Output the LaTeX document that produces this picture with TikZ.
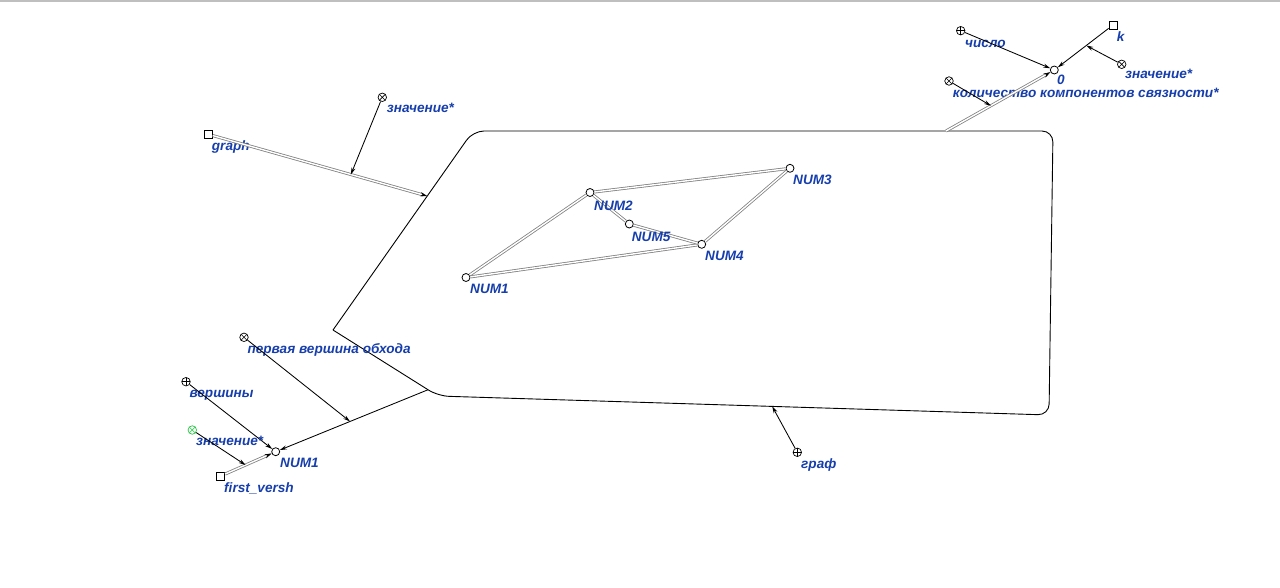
\documentclass[tikz,border=0pt]{standalone}
\usepackage{fontspec}
\setmainfont{Liberation Sans}
\usetikzlibrary{arrows.meta,calc}
\definecolor{lbl}{RGB}{22,62,172}
\definecolor{grn}{RGB}{40,200,70}
\begin{document}
\begin{tikzpicture}[x=1pt,y=-1pt,
  lab/.style={anchor=base west, inner sep=0pt, text=lbl, font=\fontsize{13.6}{15}\selectfont\bfseries\itshape},
  vtx/.style={circle, draw, fill=white, minimum size=8pt, inner sep=0pt, line width=0.8pt},
  mk/.style={circle, fill=white, minimum size=8.5pt, inner sep=0pt, line width=0.7pt},
  plusmk/.style={mk, draw=black, path picture={\draw[black, line width=0.6pt] (path picture bounding box.north) -- (path picture bounding box.south) (path picture bounding box.west) -- (path picture bounding box.east);}},
  xmk/.style={mk, draw=#1, path picture={\draw[#1, line width=0.6pt] (path picture bounding box.north west) -- (path picture bounding box.south east) (path picture bounding box.south west) -- (path picture bounding box.north east);}},
  xmk/.default=black,
  sq/.style={rectangle, draw, fill=white, minimum size=8pt, inner sep=0pt, line width=0.8pt},
  conn/.style={line width=0.85pt, -{Stealth[length=7pt,width=4pt]}},
  dbl/.style={draw=black!50, double=white, double distance=1.4pt, line width=0.8pt},
  dblarr/.style={dbl, -{Stealth[length=7pt,width=4.2pt,black,line width=0.3pt]}},
  shapeline/.style={line width=0.9pt},
]
\useasboundingbox (0,0) rectangle (1280,587);
\draw[black!25, line width=1.5pt] (0,1.2) -- (1280,1.2);

% big shape
\coordinate (lc) at (333,330);
\coordinate (tl) at (473,131);
\coordinate (tr) at (1053,131);
\coordinate (br) at (1049,415);
\coordinate (bl) at (438,396);
\draw[shapeline, rounded corners=11pt] (lc) -- (tl) -- (tr) -- (br) -- (bl) -- (lc);
\coordinate (pgraph) at ($(lc)!0.673!(tl)$);
\coordinate (ptop) at ($(tl)!0.8155!(tr)$);
\coordinate (pbl) at ($(lc)!0.905!(bl)$);
\coordinate (pgraf) at ($(bl)!0.547!(br)$);

% inner graph vertices
\node[vtx] (n1) at (466,277.5) {};
\node[vtx] (n2) at (590,192.5) {};
\node[vtx] (n3) at (790,168.3) {};
\node[vtx] (n5) at (629.3,224) {};
\node[vtx] (n4) at (701.7,244.3) {};
\draw[dbl] (n1) -- (n2);
\draw[dbl] (n2) -- (n3);
\draw[dbl] (n3) -- (n4);
\draw[dbl] (n4) -- (n1);
\draw[dbl] (n2) -- (n5);
\draw[dbl] (n5) -- (n4);
\node[lab] (ln1) at (470,293.5) {NUM1};
\node[lab] (ln2) at (594,210) {NUM2};
\node[lab] (ln3) at (793,184.5) {NUM3};
\node[lab] (ln5) at (631.7,241) {NUM5};
\node[lab] (ln4) at (705,260.5) {NUM4};

% graph input (left)
\node[sq] (gsq) at (208.3,134.3) {};
\node[lab] (lgraph) at (211.7,150) {graph};
\draw[dblarr] (gsq) -- (pgraph) coordinate[pos=0.644] (mg);
\node[xmk] (zv1) at (382.3,97.3) {};
\node[lab] (lzv1) at (386.7,112) {значение*};
\draw[conn] (zv1) -- (mg);

% top right
\node[vtx] (zero) at (1054.3,70) {};
\node[lab] (lzero) at (1057,84) {0};
\node[plusmk] (chislo) at (960.7,30.7) {};
\node[lab] (lchislo) at (965,47) {число};
\node[sq] (ksq) at (1113,25) {};
\node[lab] (lk) at (1116.7,41) {k};
\node[xmk] (zv2) at (1121.7,64.3) {};
\node[lab] (lzv2) at (1125,78) {значение*};
\node[xmk] (kol) at (949,81) {};
\node[lab] (lkol) at (952.7,97) {количество компонентов связности*};
\draw[conn] (chislo) -- (zero);
\draw[conn] (ksq) -- (zero) coordinate[pos=0.44] (mk1);
\draw[conn] (zv2) -- (mk1);
\draw[dblarr] (ptop) -- (zero) coordinate[pos=0.43] (mk2);
\draw[conn] (kol) -- (mk2);

% bottom
\node[plusmk] (graf) at (797.3,452.3) {};
\node[lab] (lgraf) at (801,468) {граф};
\draw[conn] (graf) -- (pgraf);

% bottom left
\node[vtx] (b1) at (275.7,451.7) {};
\node[lab] (lb1) at (280,467) {NUM1};
\draw[conn] (pbl) -- (b1) coordinate[pos=0.526] (mb1);
\node[xmk] (perv) at (244,337.3) {};
\node[lab] (lperv) at (247.3,353) {первая вершина обхода};
\draw[conn] (perv) -- (mb1);
\node[plusmk] (versh) at (186,381.7) {};
\node[lab] (lversh) at (189.3,397) {вершины};
\draw[conn] (versh) -- (b1);
\node[sq] (fsq) at (220.7,476) {};
\node[lab] (lfv) at (224,492.5) {first\_versh};
\draw[dblarr] (fsq) -- (b1) coordinate[pos=0.44] (mf);
\node[xmk=grn] (zv3) at (192.3,430) {};
\node[lab] (lzv3) at (196,445) {значение*};
\draw[conn] (zv3) -- (mf);
\end{tikzpicture}
\end{document}
